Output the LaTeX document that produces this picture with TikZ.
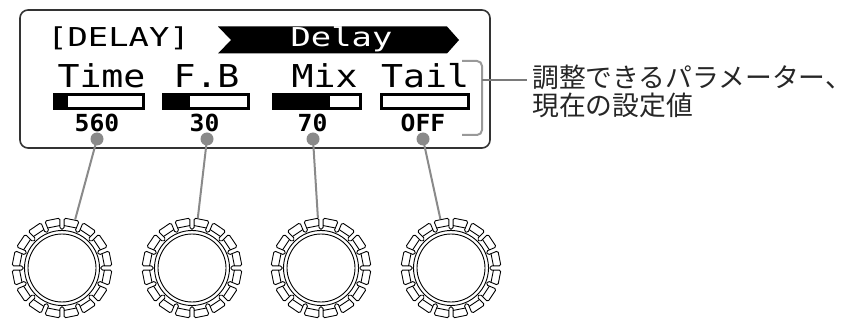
\documentclass[tikz,border=0pt]{standalone}
\usepackage{fontspec}
\newfontfamily\lcdhead[FakeStretch=1.3]{DejaVu Sans Mono}
\newfontfamily\lcdlab[FakeStretch=1.16]{DejaVu Sans Mono}
\newfontfamily\lcdval[FakeStretch=1.05]{DejaVu Sans Mono}
\newfontfamily\jpfont{Noto Sans CJK JP}
\definecolor{dotgray}{HTML}{8A8A8A}
\definecolor{brgray}{HTML}{999999}
\tikzset{
  panel/.style={draw=black!80, line width=1.6, rounded corners=8},
  hdrtext/.style={inner sep=0, anchor=base, font=\lcdhead\fontsize{26}{26}\selectfont},
  labtext/.style={inner sep=0, anchor=base, font=\lcdlab\fontsize{31.5}{31.5}\selectfont},
  valtext/.style={inner sep=0, anchor=base, font=\lcdval\bfseries\fontsize{23.5}{23.5}\selectfont},
  barbox/.style={draw=black, line width=3},
  dotnode/.style={circle, fill=dotgray, minimum size=13, inner sep=0},
  knobnode/.style={circle, minimum size=100, inner sep=0},
  conn/.style={draw=dotgray, line width=2},
  knobline/.style={draw=black, line width=0.9},
  notetext/.style={inner sep=0, anchor=base west, text=black!85, font=\jpfont\fontsize{26.8}{26.8}\selectfont}
}
\newcommand{\drawknob}[1]{%
  \begin{scope}[shift={(#1)}]
    \draw[knobline] (0,0) circle[radius=34];
    \draw[knobline] (0,0) circle[radius=37.5];
    \draw[knobline, rounded corners=1.6]
      (3:39)
      \foreach \i in {0,...,15}{
        -- ({22.5*\i+2.4}:50) -- ({22.5*\i+20.1}:50)
        -- ({22.5*\i+19.5}:39) -- ({22.5*\i+25.5}:39)
      } -- cycle;
    \foreach \i in {0,...,15}{
      \draw[knobline] ({22.5*\i+2.8}:42.5) -- ({22.5*\i+19.7}:42.5);
    }
  \end{scope}}
\begin{document}
\begin{tikzpicture}[x=1pt, y=-1pt]
\useasboundingbox (0,0) rectangle (845,320);
% display panel
\draw[panel] (20,10) rectangle (490,148);
% header
\node[hdrtext] (hdr) at (118.5,47) {[DELAY]};
\fill[black] (218,26.5) -- (447,26.5) -- (459,40) -- (447,53.5) -- (218,53.5) -- (231,40) -- cycle;
\node[hdrtext, text=white] (dly) at (341.5,47) {Delay};
% labels
\node[labtext] (l1) at (101.5,88) {Time};
\node[labtext] (l2) at (206.5,88) {F.B};
\node[labtext] (l3) at (324.5,88) {Mix};
\node[labtext] (l4) at (425,88) {Tail};
% bars
\draw[barbox] (54.5,94.5) rectangle (143.5,108.5);
\fill[black] (54.5,94.5) rectangle (68,108.5);
\draw[barbox] (163.5,94.5) rectangle (248.5,108.5);
\fill[black] (163.5,94.5) rectangle (190,108.5);
\draw[barbox] (273.5,94.5) rectangle (360.5,108.5);
\fill[black] (273.5,94.5) rectangle (330,108.5);
\draw[barbox] (381.5,94.5) rectangle (468.5,108.5);
% values
\node[valtext] (v1) at (97,132) {560};
\node[valtext] (v2) at (204.5,132) {30};
\node[valtext] (v3) at (312.5,132) {70};
\node[valtext] (v4) at (423,132) {OFF};
% bracket and note
\draw[brgray, line width=2, rounded corners=5] (462,61) -- (482,61) -- (482,135) -- (462,135);
\coordinate (bt) at (482,80);
\coordinate (be) at (527,80);
\draw[brgray!80!black, line width=1.3] (bt) -- (be);
\node[notetext] (n1) at (532,87.5) {調整できるパラメーター、};
\node[notetext] (n2) at (532,115.5) {現在の設定値};
% knobs
\node[knobnode] (k1) at (62,268) {};
\node[knobnode] (k2) at (192,268) {};
\node[knobnode] (k3) at (321,268) {};
\node[knobnode] (k4) at (451,268) {};
\drawknob{k1.center}
\drawknob{k2.center}
\drawknob{k3.center}
\drawknob{k4.center}
% dots and connectors
\node[dotnode] (d1) at (97,139) {};
\node[dotnode] (d2) at (207,139) {};
\node[dotnode] (d3) at (313,139) {};
\node[dotnode] (d4) at (423,139) {};
\draw[conn] (d1.center) -- (k1);
\draw[conn] (d2.center) -- (k2);
\draw[conn] (d3.center) -- (k3);
\draw[conn] (d4.center) -- (k4);
\end{tikzpicture}
\end{document}
